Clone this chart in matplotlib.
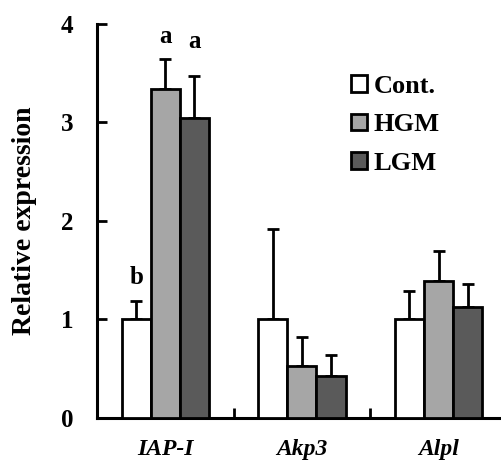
import matplotlib.pyplot as plt
import numpy as np

# data
genes = ['IAP-I', 'Akp3', 'Alpl']
groups = ['Cont.', 'HGM', 'LGM']
cont = [1.0, 1.0, 1.0]
cont_err = [0.19, 0.92, 0.29]
hgm = [3.34, 0.53, 1.39]
hgm_err = [0.30, 0.29, 0.31]
lgm = [3.05, 0.43, 1.13]
lgm_err = [0.42, 0.21, 0.23]
# significance letters (gene index, group index, text, height)
letters = [(0, 0, 'b', 1.43), (0, 1, 'a', 3.87), (0, 2, 'a', 3.82)]

colors = ['white', '#a6a6a6', '#5a5a5a']

plt.rcParams['font.family'] = ['Liberation Serif', 'DejaVu Serif']
plt.rcParams['font.weight'] = 'bold'

fig = plt.figure(figsize=(5.01, 4.61), dpi=100)
ax = fig.add_axes([0.1936, 0.0933, 0.818, 0.8547])

w = 0.213
x = np.arange(len(genes)) + 0.5
for j, (vals, errs) in enumerate([(cont, cont_err), (hgm, hgm_err), (lgm, lgm_err)]):
    pos = x + (j - 1) * w
    ax.bar(pos, vals, width=w, color=colors[j], edgecolor='black', linewidth=2,
           label=groups[j], zorder=3)
    ax.errorbar(pos, vals, yerr=[np.zeros(len(vals)), errs], fmt='none',
                ecolor='black', elinewidth=2, capsize=4, capthick=2, zorder=2)

for i, j, t, h in letters:
    ax.text(x[i] + (j - 1) * w, h, t, ha='center', va='center',
            fontsize=18, fontweight='bold', clip_on=False)

ax.set_xlim(0, 3)
ax.set_ylim(0, 4)
ax.set_yticks([0, 1, 2, 3, 4])
ax.set_yticklabels(['0', '1', '2', '3', '4'], fontsize=18, fontweight='bold')
ax.tick_params(axis='y', direction='in', length=7, width=2, pad=17)
ax.set_xticks(x)
ax.set_xticklabels(genes, fontsize=17, fontweight='bold', style='italic')
ax.tick_params(axis='x', which='major', length=0, pad=15)
ax.set_xticks([1, 2], minor=True)
ax.tick_params(axis='x', which='minor', direction='in', length=7, width=2)

for s in ['top', 'right']:
    ax.spines[s].set_visible(False)
for s in ['left', 'bottom']:
    ax.spines[s].set_linewidth(2.2)

ax.set_ylabel('Relative expression', fontsize=20, fontweight='bold', labelpad=17)

ax.legend(loc='upper left', bbox_to_anchor=(0.68, 0.86), bbox_transform=fig.transFigure,
          frameon=False, handlelength=0.6, handleheight=0.6, borderaxespad=0,
          handletextpad=0.25, labelspacing=0.58, prop={'weight': 'bold', 'size': 19})

fig.savefig('out.png', dpi=100)
